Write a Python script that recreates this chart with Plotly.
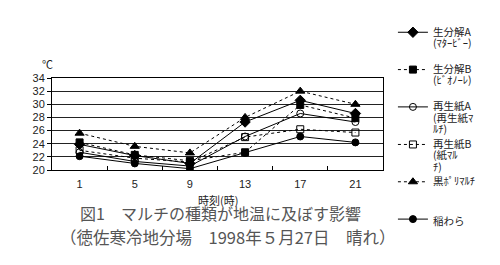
import plotly.graph_objects as go

hours = ["1", "5", "9", "13", "17", "21"]
seikaiA = [23.9, 22.2, 21.0, 27.3, 30.6, 28.6]
seikaiB = [24.2, 22.3, 21.4, 22.7, 29.9, 27.9]
saiseiA = [22.7, 21.3, 20.6, 25.1, 28.6, 27.3]
saiseiB = [23.0, 21.8, 21.2, 25.0, 26.2, 25.7]
kuropoly = [25.6, 23.6, 22.6, 28.0, 32.0, 30.0]
inawara = [22.1, 21.0, 20.2, 22.6, 25.1, 24.2]

NB = "\u00a0"
def lab(main, sub_lines, total=3):
    parts = [f'<span style="font-size:10.5px">{main}</span>']
    parts += [f'<span style="font-size:10.5px">{s}</span>' for s in sub_lines]
    while len(parts) < total:
        parts.append(NB)
    return "<br>".join(parts)

series = [
    (lab("生分解A", ["(ﾏﾀｰﾋﾞｰ)"]), seikaiA, "diamond", "solid", 8, "legend"),
    (lab("生分解B", ["(ﾋﾞｵﾉｰﾚ)"]), seikaiB, "square", "dot", 7, "legend"),
    (lab("再生紙A", ["(再生紙ﾏ", "ﾙﾁ)"]), saiseiA, "circle-open", "solid", 7, "legend"),
    (lab("再生紙B", ["(紙ﾏﾙ", "ﾁ)"]), saiseiB, "square-open", "dot", 7, "legend2"),
    (lab("黒ﾎﾟﾘﾏﾙﾁ", []), kuropoly, "triangle-up", "dot", 8, "legend2"),
    (lab("稲わら", [], total=1), inawara, "circle", "solid", 7, "legend2"),
]

fig = go.Figure()
for name, vals, sym, dash, sz, leg in series:
    fig.add_trace(go.Scatter(
        x=hours, y=vals, name=name, mode="lines+markers", legend=leg,
        line=dict(color="black", width=1, dash=dash),
        marker=dict(symbol=sym, size=sz, color="black",
                    line=dict(color="black", width=1)),
    ))

legfont = dict(family="Noto Sans CJK JP", size=8.8, color="#222")
fig.update_layout(
    width=500, height=265,
    margin=dict(l=52, r=117, t=78, b=95, autoexpand=False),
    paper_bgcolor="white", plot_bgcolor="white",
    font=dict(family="Liberation Sans, Noto Sans CJK JP", size=11, color="#222"),
    showlegend=True,
    legend=dict(x=1.03, xanchor="left", y=1.63, yanchor="top",
                valign="top", bgcolor="rgba(0,0,0,0)", font=legfont),
    legend2=dict(x=1.03, xanchor="left", y=-0.72, yanchor="bottom",
                 valign="top", bgcolor="rgba(0,0,0,0)", font=legfont),
    xaxis=dict(type="category", range=[-0.5, 5.5], showgrid=False,
               showline=True, linecolor="black", linewidth=1, mirror=True,
               ticks="inside", tickson="boundaries", ticklen=4,
               tickcolor="black", tickfont=dict(size=11), ticklabelstandoff=4),
    yaxis=dict(range=[20, 34], dtick=2, showgrid=True, gridcolor="#222",
               gridwidth=1, showline=True, linecolor="black", linewidth=1,
               mirror=True, ticks="outside", ticklen=4, tickcolor="black",
               zeroline=False, tickfont=dict(size=11)),
)

fig.add_annotation(text="℃", xref="paper", yref="paper", x=-0.035, y=1.14,
                   yanchor="middle", showarrow=False, font=dict(size=11, color="#222"))
fig.add_annotation(text="時刻(時)", xref="paper", yref="paper", x=0.5, y=-0.33,
                   yanchor="middle", showarrow=False,
                   font=dict(family="Noto Sans CJK JP", size=11, color="#222"))
fig.add_annotation(text="図1　マルチの種類が地温に及ぼす影響", xref="paper", yref="paper",
                   x=0.51, y=-0.47, yanchor="middle", showarrow=False,
                   font=dict(family="Noto Sans CJK JP", size=16, color="#555"))
fig.add_annotation(text="（徳佐寒冷地分場　1998年５月27日　晴れ）", xref="paper", yref="paper",
                   x=0.53, y=-0.73, yanchor="middle", showarrow=False,
                   font=dict(family="Noto Sans CJK JP", size=16.5, color="#555"))

fig.write_html("out.html")
